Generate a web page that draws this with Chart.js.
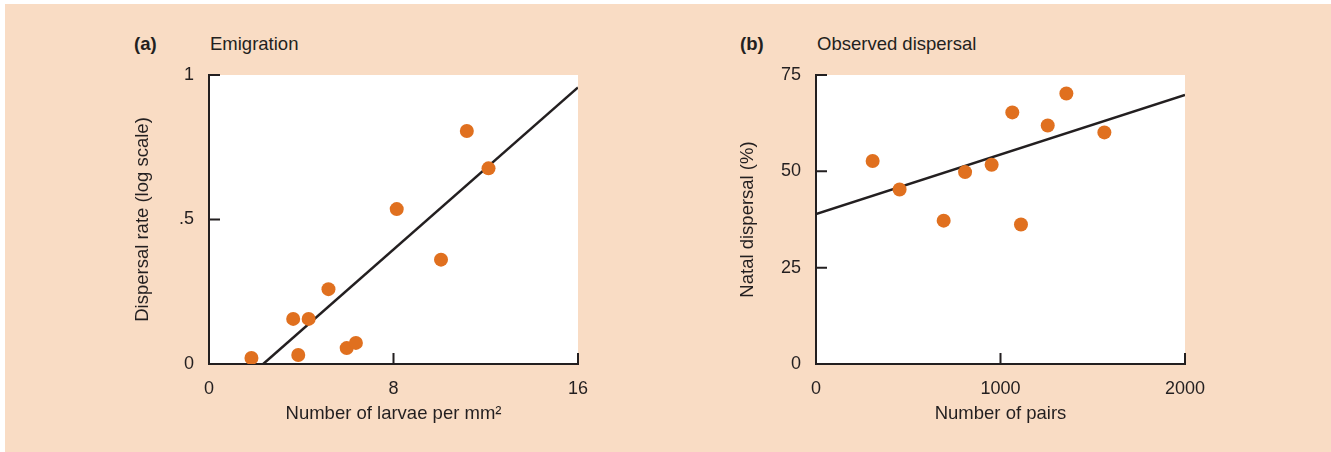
<!DOCTYPE html>
<html>
<head>
<meta charset="utf-8">
<script src="https://cdn.jsdelivr.net/npm/chart.js@4.4.1/dist/chart.umd.min.js"></script>
<style>
  html, body { margin: 0; padding: 0; background: #fff; }
  body { width: 1331px; height: 452px; position: relative; overflow: hidden;
         font-family: "Liberation Sans", Arial, sans-serif; color: #231f20; }
  #panel { position: absolute; left: 5px; top: 4px; width: 1326px; height: 448px; background: #f9dcc4; }
  .cv { position: absolute; top: 0; }
  .hd { position: absolute; top: 33px; font-size: 18.5px; line-height: 22px; }
  .hd b { font-weight: bold; }
</style>
</head>
<body>
<div id="panel"></div>
<div class="hd" style="left:134px"><b>(a)</b></div>
<div class="hd" style="left:210px">Emigration</div>
<div class="hd" style="left:740px"><b>(b)</b></div>
<div class="hd" style="left:817px">Observed dispersal</div>
<div class="cv" style="left:0;width:665px;height:452px"><canvas id="chartA"></canvas></div>
<div class="cv" style="left:665px;width:666px;height:452px"><canvas id="chartB"></canvas></div>
<script>
// (a) emigration: larvae density vs dispersal rate
const larvae = [1.84, 3.65, 4.32, 3.87, 5.18, 5.97, 6.37, 8.14, 10.06, 11.18, 12.12];
const dispersalRate = [0.021, 0.156, 0.156, 0.031, 0.259, 0.055, 0.073, 0.536, 0.361, 0.806, 0.677];
const fitA_x = [2.35, 16];
const fitA_y = [0, 0.957];
const ticksA_x = [0, 8, 16];
const ticksA_y = [0, 0.5, 1];
const labelsA_y = ['0', '.5', '1'];

// (b) observed dispersal: number of pairs vs natal dispersal
const pairs = [307, 453, 692, 808, 952, 1064, 1111, 1256, 1357, 1563];
const natalDispersal = [52.7, 45.3, 37.2, 49.8, 51.7, 65.3, 36.2, 61.9, 70.2, 60.1];
const fitB_x = [0, 2000];
const fitB_y = [38.9, 69.8];
const ticksB_x = [0, 1000, 2000];
const ticksB_y = [0, 25, 50, 75];

const ink = '#231f20';
const dot = '#e0701f';
const fontFam = '"Liberation Sans", Arial, sans-serif';

const whiteArea = {
  id: 'whiteArea',
  beforeDraw(chart) {
    const { ctx, chartArea: a } = chart;
    ctx.save();
    ctx.fillStyle = '#fff';
    ctx.fillRect(a.left, a.top, a.right - a.left, a.bottom - a.top);
    ctx.restore();
  }
};

// tick marks pointing into the plot
const innerTicks = {
  id: 'innerTicks',
  afterDatasetsDraw(chart) {
    const { ctx, chartArea: a, scales } = chart;
    ctx.save();
    ctx.strokeStyle = ink;
    ctx.lineWidth = 2;
    ctx.beginPath();
    scales.x.ticks.forEach(t => {
      const px = scales.x.getPixelForValue(t.value);
      if (Math.abs(px - a.left) < 2) return;
      ctx.moveTo(px, a.bottom);
      ctx.lineTo(px, a.bottom - 11);
    });
    scales.y.ticks.forEach(t => {
      const py = scales.y.getPixelForValue(t.value);
      if (Math.abs(py - a.bottom) < 2) return;
      ctx.moveTo(a.left, py);
      ctx.lineTo(a.left + 11, py);
    });
    ctx.stroke();
    ctx.restore();
  }
};

function makeChart(id, opt) {
  return new Chart(document.getElementById(id), {
    type: 'scatter',
    data: {
      datasets: [{
        data: opt.xs.map((x, i) => ({ x, y: opt.ys[i] })),
        backgroundColor: dot,
        borderWidth: 0,
        pointRadius: 7,
        pointHoverRadius: 7,
        order: 1
      }, {
        type: 'line',
        data: opt.fx.map((x, i) => ({ x, y: opt.fy[i] })),
        borderColor: ink,
        borderWidth: 2.5,
        pointRadius: 0,
        fill: false,
        order: 2
      }]
    },
    options: {
      responsive: true,
      maintainAspectRatio: false,
      animation: false,
      events: [],
      layout: { padding: { top: 75, right: opt.padRight, left: 0, bottom: 0 } },
      plugins: { legend: { display: false }, tooltip: { enabled: false } },
      scales: {
        x: {
          type: 'linear',
          min: opt.xt[0], max: opt.xt[opt.xt.length - 1],
          afterBuildTicks: s => { s.ticks = opt.xt.map(v => ({ value: v })); },
          afterFit: s => { s.height = 88; },
          grid: { display: false },
          border: { display: true, color: ink, width: 2 },
          ticks: {
            color: ink, padding: 6, maxRotation: 0, font: { family: fontFam, size: 18 },
            callback: (v) => String(v)
          },
          title: {
            display: true, text: opt.xTitle, color: ink,
            font: { family: fontFam, size: 18.5 }, padding: { top: 0, bottom: 27 }
          }
        },
        y: {
          type: 'linear',
          min: opt.yt[0], max: opt.yt[opt.yt.length - 1],
          afterBuildTicks: s => { s.ticks = opt.yt.map(v => ({ value: v })); },
          afterFit: s => { s.width = opt.yWidth; },
          grid: { display: false },
          border: { display: true, color: ink, width: 2 },
          ticks: {
            color: ink, padding: 7, font: { family: fontFam, size: 18 },
            callback: (v) => opt.yLabels ? opt.yLabels[opt.yt.indexOf(v)] : String(v)
          },
          title: {
            display: true, text: opt.yTitle, color: ink,
            font: { family: fontFam, size: 18.5 }, padding: { top: opt.yTitlePad, bottom: 0 }
          }
        }
      }
    },
    plugins: [whiteArea, innerTicks]
  });
}

makeChart('chartA', {
  xs: larvae, ys: dispersalRate, fx: fitA_x, fy: fitA_y,
  xt: ticksA_x, yt: ticksA_y, yLabels: labelsA_y,
  xTitle: 'Number of larvae per mm\u00b2', yTitle: 'Dispersal rate (log scale)',
  padRight: 87, yWidth: 209, yTitlePad: 132
});

makeChart('chartB', {
  xs: pairs, ys: natalDispersal, fx: fitB_x, fy: fitB_y,
  xt: ticksB_x, yt: ticksB_y, yLabels: null,
  xTitle: 'Number of pairs', yTitle: 'Natal dispersal (%)',
  padRight: 146, yWidth: 151, yTitlePad: 72
});
</script>
</body>
</html>
